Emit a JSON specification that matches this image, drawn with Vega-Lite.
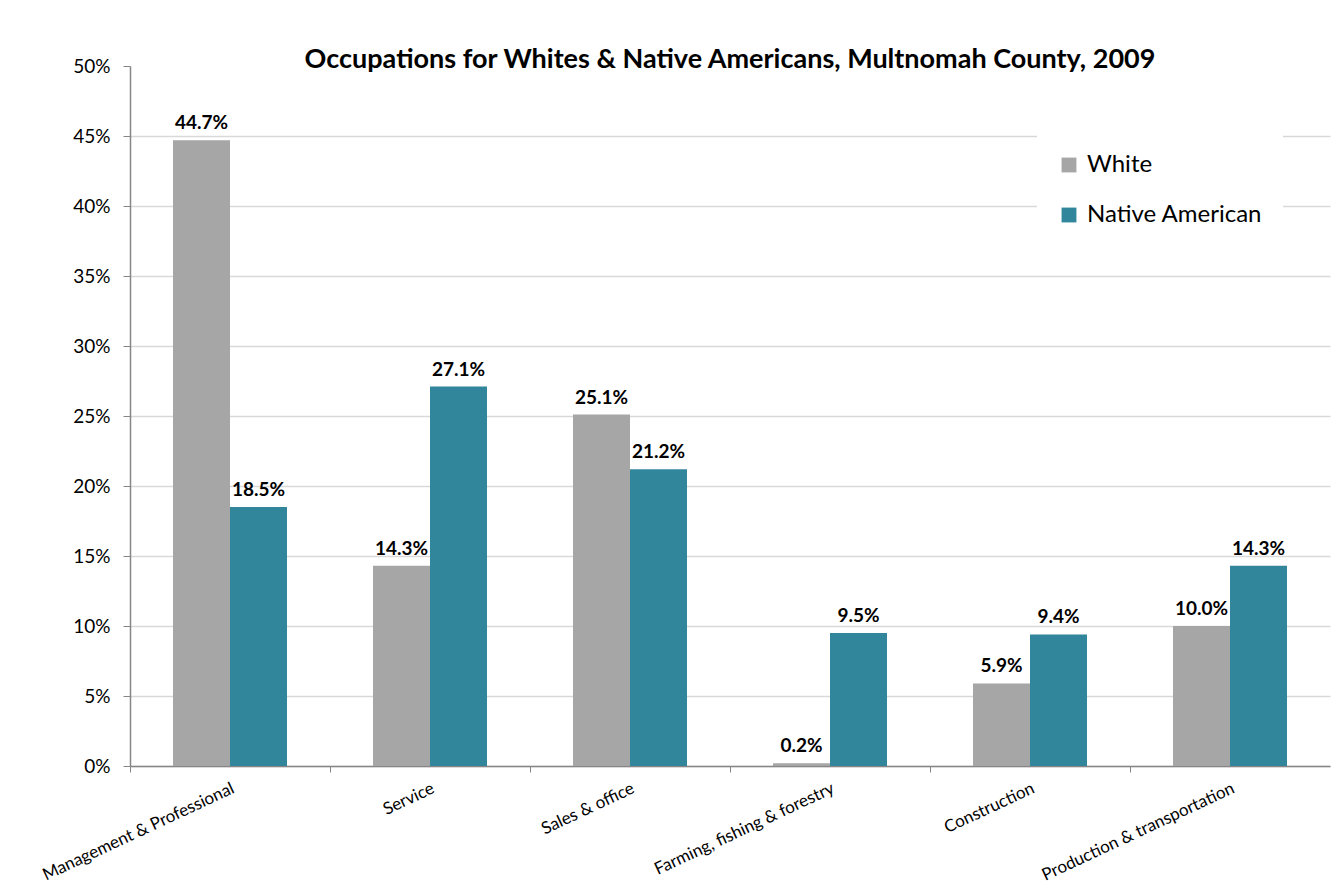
{
  "$schema": "https://vega.github.io/schema/vega-lite/v6.json",
  "autosize": "none",
  "width": 1200,
  "height": 700,
  "padding": {"left": 130, "top": 66, "right": 10, "bottom": 127},
  "background": "white",
  "title": {
    "text": "Occupations for Whites & Native Americans, Multnomah County, 2009",
    "font": "Lato",
    "fontSize": 27,
    "fontWeight": "bold",
    "color": "#000000",
    "anchor": "middle",
    "frame": "group",
    "baseline": "alphabetic",
    "offset": -38
  },
  "data": {
    "values": [
      {"occupation": "Management & Professional", "group": "White", "value": 0.447},
      {"occupation": "Management & Professional", "group": "Native American", "value": 0.185},
      {"occupation": "Service", "group": "White", "value": 0.143},
      {"occupation": "Service", "group": "Native American", "value": 0.271},
      {"occupation": "Sales & office", "group": "White", "value": 0.251},
      {"occupation": "Sales & office", "group": "Native American", "value": 0.212},
      {"occupation": "Farming, fishing & forestry", "group": "White", "value": 0.002},
      {"occupation": "Farming, fishing & forestry", "group": "Native American", "value": 0.095},
      {"occupation": "Construction", "group": "White", "value": 0.059},
      {"occupation": "Construction", "group": "Native American", "value": 0.094},
      {"occupation": "Production & transportation", "group": "White", "value": 0.100},
      {"occupation": "Production & transportation", "group": "Native American", "value": 0.143}
    ]
  },
  "encoding": {
    "x": {
      "field": "occupation",
      "type": "nominal",
      "sort": null,
      "scale": {"paddingInner": 0.43, "paddingOuter": 0.215},
      "axis": {
        "title": null,
        "labelAngle": -25,
        "labelFont": "Lato",
        "labelFontSize": 17,
        "labelColor": "#000000",
        "labelPadding": 8,
        "labelLimit": 0,
        "bandPosition": -0.377,
        "tickColor": "#868686",
        "tickSize": 6,
        "domainColor": "#868686",
        "domainWidth": 1.5,
        "grid": false
      }
    },
    "xOffset": {"field": "group", "type": "nominal", "sort": ["White", "Native American"]},
    "y": {
      "field": "value",
      "type": "quantitative",
      "scale": {"domain": [0, 0.5], "nice": false},
      "axis": {
        "title": null,
        "format": ".0%",
        "values": [0, 0.05, 0.1, 0.15, 0.2, 0.25, 0.3, 0.35, 0.4, 0.45, 0.5],
        "labelFont": "Lato",
        "labelFontSize": 19,
        "labelColor": "#000000",
        "labelPadding": 13,
        "tickColor": "#868686",
        "tickSize": 7,
        "domainColor": "#868686",
        "domainWidth": 1.5,
        "grid": true,
        "gridColor": {"condition": {"test": "datum.value >= 0.5", "value": "transparent"}, "value": "#d9d9d9"},
        "gridWidth": 1.5
      }
    }
  },
  "layer": [
    {
      "mark": {"type": "bar"},
      "encoding": {
        "color": {
          "field": "group",
          "type": "nominal",
          "scale": {"domain": ["White", "Native American"], "range": ["#A6A6A6", "#31869B"]},
          "legend": {
            "title": null,
            "orient": "none",
            "legendX": 907,
            "legendY": 67,
            "symbolType": "square",
            "symbolSize": 220,
            "symbolStrokeWidth": 0,
            "labelFont": "Lato",
            "labelFontSize": 24,
            "labelColor": "#000000",
            "labelOffset": 6,
            "labelLimit": 0,
            "rowPadding": 26,
            "fillColor": "white",
            "padding": 20
          }
        }
      }
    },
    {
      "mark": {"type": "text", "baseline": "alphabetic", "dy": -11, "font": "Lato", "fontSize": 19, "fontWeight": "bold", "color": "#000000"},
      "encoding": {
        "text": {"field": "value", "type": "quantitative", "format": ".1%"}
      }
    }
  ],
  "config": {
    "view": {"stroke": null}
  }
}
